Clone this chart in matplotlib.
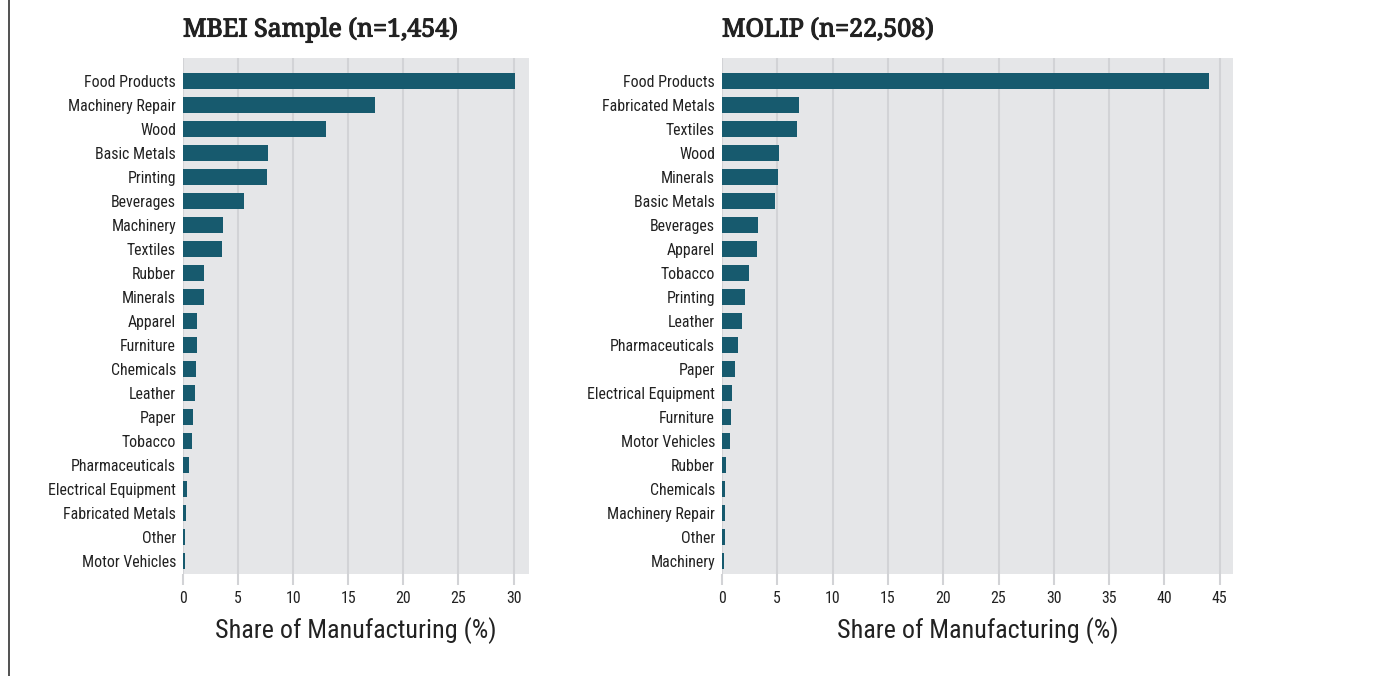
import matplotlib.pyplot as plt
import matplotlib.lines as mlines
import matplotlib.patheffects as pe
from matplotlib import font_manager

# MBEI sample shares (%)
mbei_labels = ['Food Products', 'Machinery Repair', 'Wood', 'Basic Metals', 'Printing',
               'Beverages', 'Machinery', 'Textiles', 'Rubber', 'Minerals', 'Apparel',
               'Furniture', 'Chemicals', 'Leather', 'Paper', 'Tobacco', 'Pharmaceuticals',
               'Electrical Equipment', 'Fabricated Metals', 'Other', 'Motor Vehicles']
mbei_values = [30.1, 17.4, 13.0, 7.7, 7.6, 5.5, 3.65, 3.55, 1.95, 1.95, 1.3,
               1.3, 1.22, 1.05, 0.95, 0.78, 0.55, 0.37, 0.25, 0.2, 0.17]

# MOLIP shares (%)
molip_labels = ['Food Products', 'Fabricated Metals', 'Textiles', 'Wood', 'Minerals',
                'Basic Metals', 'Beverages', 'Apparel', 'Tobacco', 'Printing', 'Leather',
                'Pharmaceuticals', 'Paper', 'Electrical Equipment', 'Furniture',
                'Motor Vehicles', 'Rubber', 'Chemicals', 'Machinery Repair', 'Other',
                'Machinery']
molip_values = [44.0, 6.95, 6.8, 5.15, 5.05, 4.8, 3.25, 3.18, 2.44, 2.08, 1.81,
                1.45, 1.17, 0.9, 0.78, 0.7, 0.35, 0.26, 0.26, 0.25, 0.17]

mbei_ticks = [0, 5, 10, 15, 20, 25, 30]
molip_ticks = [0, 5, 10, 15, 20, 25, 30, 35, 40, 45]

installed = {f.name for f in font_manager.fontManager.ttflist}
sans = [f for f in ['Roboto Condensed', 'Roboto', 'DejaVu Sans'] if f in installed]
serif = [f for f in ['Roboto Slab', 'Noto Serif', 'DejaVu Serif'] if f in installed]
plt.rcParams['font.family'] = sans

BAR = '#175a6e'
BG = '#e5e6e8'
GRID = '#d2d3d6'
TXT = '#222222'

fig = plt.figure(figsize=(13.92, 6.76), dpi=100)

panels = [
    ([183 / 1392, 1 - 574 / 676, 346 / 1392, 516 / 676], mbei_labels, mbei_values,
     mbei_ticks, 31.4, 'MBEI Sample (n=1,454)'),
    ([722 / 1392, 1 - 574 / 676, 511 / 1392, 516 / 676], molip_labels, molip_values,
     molip_ticks, 46.2, 'MOLIP (n=22,508)'),
]

for rect, labels, values, ticks, xmax, title in panels:
    ax = fig.add_axes(rect)
    ax.set_facecolor(BG)
    y = list(range(len(labels)))
    ax.barh(y, values, height=0.63, color=BAR, zorder=3)
    ax.set_yticks(y)
    ax.set_yticklabels(labels, fontsize=11.4, color=TXT)
    ax.set_ylim(20.54, -0.96)
    ax.set_xlim(0, xmax)
    ax.set_xticks(ticks)
    ax.set_xticklabels([str(t) for t in ticks], fontsize=11.4, color=TXT)
    ax.xaxis.grid(True, color=GRID, linewidth=1.5, zorder=0)
    ax.set_axisbelow(True)
    ax.tick_params(axis='x', length=8, width=1.5, color=GRID, pad=4.5)
    ax.tick_params(axis='y', length=0, pad=5)
    for s in ax.spines.values():
        s.set_visible(False)
    ax.set_xlabel('Share of Manufacturing (%)', fontsize=18.8, color=TXT, labelpad=8)
    t = ax.text(0, 1.03, title, transform=ax.transAxes, ha='left', va='bottom',
                fontsize=18, fontweight='bold', color=TXT, family=serif)
    t.set_path_effects([pe.withStroke(linewidth=0.8, foreground=TXT)])

# thin frame line at the left edge
fig.add_artist(mlines.Line2D([8.5 / 1392, 8.5 / 1392], [0, 1], color='#333333',
                             linewidth=1.2, transform=fig.transFigure))

fig.savefig('out.png', dpi=100, facecolor='white')
